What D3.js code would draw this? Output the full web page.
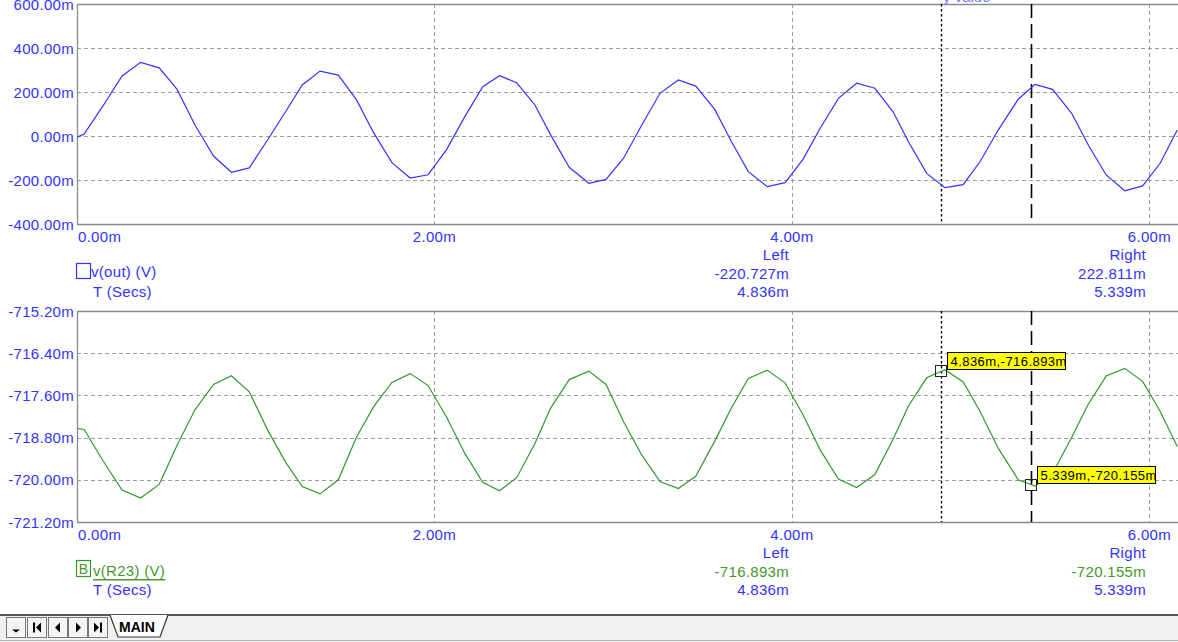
<!DOCTYPE html>
<html><head><meta charset="utf-8">
<script src="https://cdn.jsdelivr.net/npm/d3@7"></script>
<style>html,body{margin:0;padding:0;background:#fff;overflow:hidden}</style>
</head><body><svg id="c" width="1178" height="642"></svg>
<script>
// ---- data (ms / mV) ----
const times=[0,0.04,0.148,0.252,0.356,0.46,0.56,0.66,0.764,0.864,0.964,1.066,1.166,1.26,1.36,1.462,1.564,1.66,1.762,1.864,1.964,2.066,2.17,2.27,2.364,2.46,2.562,2.65,2.754,2.864,2.96,3.058,3.16,3.262,3.364,3.462,3.568,3.662,3.756,3.862,3.962,4.062,4.158,4.26,4.362,4.464,4.566,4.652,4.754,4.856,4.958,5.052,5.154,5.266,5.36,5.458,5.565,5.658,5.758,5.862,5.962,6.06,6.156];
const vOut=[-5,9,140,273,335,310,212,50,-91,-165,-145,-18,109,232,295,277,164,14,-121,-191,-176,-64,88,224,274,242,141,5,-142,-215,-197,-101,50,194,255,227,121,-26,-162,-230,-212,-106,35,171,240,217,110,-26,-170,-235,-221,-117,27,167,235,212,103,-41,-177,-249,-227,-124,27];
const vR23=[-718.54,-718.57,-719.48,-720.29,-720.52,-720.13,-719.02,-718.01,-717.29,-717.04,-717.50,-718.58,-719.49,-720.19,-720.40,-720.00,-718.78,-717.92,-717.23,-716.98,-717.32,-718.20,-719.25,-720.07,-720.31,-719.94,-718.97,-717.96,-717.15,-716.91,-717.29,-718.35,-719.30,-720.05,-720.25,-719.90,-718.90,-717.95,-717.12,-716.88,-717.25,-718.15,-719.15,-719.98,-720.22,-719.85,-718.85,-717.90,-717.10,-716.87,-717.22,-718.05,-719.10,-720.00,-720.18,-719.82,-718.80,-717.85,-717.05,-716.83,-717.20,-718.05,-719.05];
const topTicks=[600,400,200,0,-200,-400];
const topTickLabels=["600.00m","400.00m","200.00m","0.00m","-200.00m","-400.00m"];
const botTicks=[-715.2,-716.4,-717.6,-718.8,-720.0,-721.2];
const botTickLabels=["-715.20m","-716.40m","-717.60m","-718.80m","-720.00m","-721.20m"];
const xTicks=[0,2,4,6];
const xTickLabels=["0.00m","2.00m","4.00m","6.00m"];
const cursorTimes=[4.836,5.339];
const cursorTimeLabels=["4.836m","5.339m"];
const cursorOut=[-220.727,222.811];
const cursorOutLabels=["-220.727m","222.811m"];
const cursorR23=[-716.893,-720.155];
const cursorR23Labels=["-716.893m","-720.155m"];
const cursorNames=["Left","Right"];

const BLUE="#3333ff", GREEN="#2f9a2f", GREENTXT="#46982c", FONT="'Liberation Sans', Arial, sans-serif";
const svg=d3.select("#c");
svg.append("rect").attr("width",1178).attr("height",642).attr("fill","#fff");

const x=d3.scaleLinear().domain([0,6.16]).range([77,1178]);

function panel(cfg){
  const {y0,y1,domain,ticks,tickLabels,series,color,id,legend,legendBox,cursorVals,cursorValLabels,valColor,markers}=cfg;
  const y=d3.scaleLinear().domain(domain).range([y1,y0]);
  const g=svg.append("g");
  // grid
  g.selectAll(".hg").data(ticks.filter(t=>t!==domain[0]&&t!==domain[1])).join("line")
    .attr("x1",77).attr("x2",1178).attr("y1",d=>Math.round(y(d))+0.5).attr("y2",d=>Math.round(y(d))+0.5)
    .attr("stroke","#9a9a9a").attr("stroke-dasharray","4,3");
  g.selectAll(".vg").data(xTicks.filter(t=>t>0)).join("line")
    .attr("x1",d=>Math.round(x(d))+0.5).attr("x2",d=>Math.round(x(d))+0.5).attr("y1",y0).attr("y2",y1)
    .attr("stroke","#9a9a9a").attr("stroke-dasharray","4,3");
  // border
  g.append("path").attr("d",`M1178,${y0+0.5}H77.5V${y1+0.5}H1178`).attr("fill","none").attr("stroke","#8a8a8a").attr("stroke-width",1.3);
  // cursors
  g.append("line").attr("x1",Math.round(x(cursorTimes[0]))+0.5).attr("x2",Math.round(x(cursorTimes[0]))+0.5)
    .attr("y1",y0).attr("y2",y1).attr("stroke","#000").attr("stroke-width",1.4).attr("stroke-dasharray","2.5,2.5");
  g.append("line").attr("x1",Math.round(x(cursorTimes[1]))+0.5).attr("x2",Math.round(x(cursorTimes[1]))+0.5)
    .attr("y1",y0).attr("y2",y1).attr("stroke","#000").attr("stroke-width",1.6).attr("stroke-dasharray","14,6");
  // clip + line
  svg.append("clipPath").attr("id",id).append("rect").attr("x",77).attr("y",y0).attr("width",1101).attr("height",y1-y0);
  const line=d3.line().x((d,i)=>x(times[i])).y(d=>y(d));
  g.append("path").attr("clip-path",`url(#${id})`).attr("d",line(series))
    .attr("fill","none").attr("stroke",color).attr("stroke-width",1.2);
  // y tick labels
  g.selectAll(".yl").data(ticks).join("text")
    .attr("x",74).attr("y",d=>y(d)).attr("text-anchor","end").attr("dominant-baseline","central")
    .attr("font-family",FONT).attr("font-size",15).attr("letter-spacing",0.3).attr("fill",BLUE).text((d,i)=>tickLabels[i]);
  // x tick labels
  g.selectAll(".xl").data(xTicks).join("text")
    .attr("x",d=>d===0?78:x(d)).attr("y",y1+12).attr("text-anchor",d=>d===0?"start":"middle").attr("dominant-baseline","central")
    .attr("font-family",FONT).attr("font-size",15).attr("letter-spacing",0.3).attr("fill",BLUE).text((d,i)=>xTickLabels[i]);
  // legend
  legendBox(g,y1);
  g.append("text").attr("x",93).attr("y",y1+67.5).attr("dominant-baseline","central").attr("font-family",FONT)
    .attr("font-size",15).attr("letter-spacing",0.3).attr("fill",BLUE).text("T (Secs)");
  // readouts
  const rx=[789,1146];
  cursorNames.forEach((n,i)=>{
    const rows=[[n,BLUE,30],[cursorValLabels[i],valColor,49],[cursorTimeLabels[i],BLUE,67.5]];
    rows.forEach(r=>g.append("text").attr("x",rx[i]).attr("y",y1+r[2]).attr("text-anchor","end").attr("dominant-baseline","central")
      .attr("font-family",FONT).attr("font-size",15).attr("letter-spacing",0.3).attr("fill",r[1]).text(r[0]));
  });
  if(markers){
    cursorTimes.forEach((t,i)=>{
      const cx=x(t), cy=y(cursorVals[i]);
      g.append("rect").attr("x",Math.round(cx)-5.5).attr("y",Math.round(cy)-5.5).attr("width",11).attr("height",11)
        .attr("fill","none").attr("stroke","#222").attr("stroke-width",1);
      const lbl=cursorTimeLabels[i]+","+cursorValLabels[i];
      const bx=Math.round(cx)+6.5, by=Math.round(cy)-18.5;
      g.append("rect").attr("x",bx).attr("y",by).attr("width",118).attr("height",17).attr("fill","#ffff00").attr("stroke","#000");
      g.append("text").attr("x",bx+3).attr("y",by+9).attr("dominant-baseline","central").attr("font-family",FONT)
        .attr("font-size",13).attr("letter-spacing",0.45).attr("fill","#000").text(lbl);
    });
  }
  return y;
}

panel({y0:4,y1:224,domain:[-400,600],ticks:topTicks,tickLabels:topTickLabels,series:vOut,color:BLUE,id:"clipTop",
  cursorVals:cursorOut,cursorValLabels:cursorOutLabels,valColor:BLUE,markers:false,
  legendBox:(g,y1)=>{
    g.append("rect").attr("x",76.5).attr("y",263.5).attr("width",14).attr("height",15).attr("fill","none").attr("stroke",BLUE).attr("stroke-width",1.2);
    g.append("text").attr("x",91).attr("y",271).attr("dominant-baseline","central").attr("font-family",FONT)
      .attr("font-size",15).attr("letter-spacing",0.3).attr("fill",BLUE).text("v(out) (V)");
  }});
panel({y0:311,y1:522,domain:[-721.2,-715.2],ticks:botTicks,tickLabels:botTickLabels,series:vR23,color:GREEN,id:"clipBot",
  cursorVals:cursorR23,cursorValLabels:cursorR23Labels,valColor:GREENTXT,markers:true,
  legendBox:(g,y1)=>{
    g.append("rect").attr("x",76.5).attr("y",560.5).attr("width",14).attr("height",16).attr("fill","none").attr("stroke",GREEN).attr("stroke-width",1.2);
    g.append("text").attr("x",83.5).attr("y",569).attr("text-anchor","middle").attr("dominant-baseline","central").attr("font-family",FONT)
      .attr("font-size",14).attr("fill",GREENTXT).text("B");
    g.append("text").attr("x",93).attr("y",570.5).attr("dominant-baseline","central").attr("font-family",FONT)
      .attr("font-size",15).attr("letter-spacing",0.3).attr("fill",GREENTXT).attr("text-decoration","underline").text("v(R23) (V)");
  }});

// clipped label at very top
svg.append("text").attr("x",943).attr("y",1.5).attr("font-family",FONT).attr("font-size",15).attr("fill","#7777ff").text("y value");

// tab bar
const tb=svg.append("g");
tb.append("rect").attr("x",0).attr("y",615).attr("width",1178).attr("height",27).attr("fill","#f0f0f0");
tb.append("line").attr("x1",0).attr("x2",1178).attr("y1",615).attr("y2",615).attr("stroke","#555").attr("stroke-width",2);
tb.append("line").attr("x1",0).attr("x2",1178).attr("y1",640.5).attr("y2",640.5).attr("stroke","#b0b0b0");
const btnX=[6,27,48,68,88];
btnX.forEach((bx,i)=>{
  tb.append("rect").attr("x",bx+0.5).attr("y",617.5).attr("width",19).attr("height",20).attr("fill","#f4f4f4").attr("stroke","#777");
  const cx=bx+10, cy=627.5;
  let d="";
  if(i===0) d=`M${cx-4},${cy+2}h8l-4,3z`;
  if(i===1) d=`M${cx-4},${cy-5}h2v10h-2z M${cx+4},${cy-5}v10l-5,-5z`;
  if(i===2) d=`M${cx+2},${cy-5}v10l-5,-5z`;
  if(i===3) d=`M${cx-2},${cy-5}v10l5,-5z`;
  if(i===4) d=`M${cx-4},${cy-5}v10l5,-5z M${cx+2},${cy-5}h2v10h-2z`;
  tb.append("path").attr("d",d).attr("fill","#000");
});
tb.append("path").attr("d","M110,615L118,637H160L168,615").attr("fill","#fff").attr("stroke","#333").attr("stroke-width",1.2);
tb.append("text").attr("x",119).attr("y",626.5).attr("dominant-baseline","central").attr("font-family",FONT)
  .attr("font-size",14).attr("font-weight","bold").attr("fill","#000").text("MAIN");
</script></body></html>
